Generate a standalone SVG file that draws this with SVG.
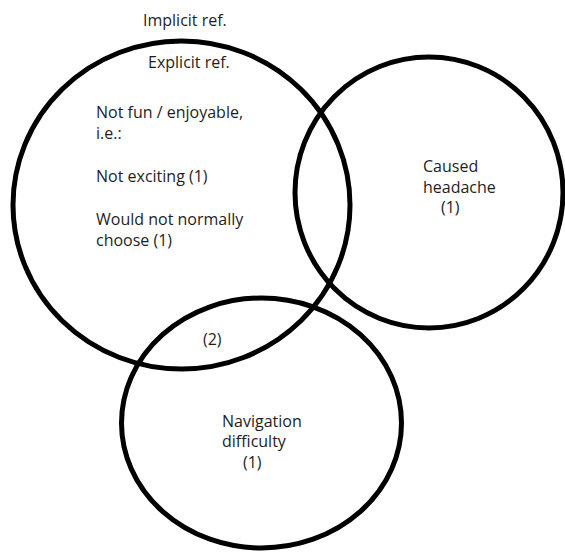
<svg xmlns="http://www.w3.org/2000/svg" width="565" height="553" viewBox="0 0 565 553">
  <style>
    .set { fill: none; stroke: #000; stroke-width: 5; }
    .lbl { font-family: "Open Sans", "Liberation Sans", sans-serif; font-size: 16px; fill: #1e1e1e; }
  </style>
  <rect width="565" height="553" fill="#fff"/>

  <!-- heading above the first set -->
  <g id="implicit-ref">
    <text class="lbl" x="143" y="26">Implicit ref.</text>
  </g>

  <!-- set: explicit references -->
  <g id="explicit-ref">
    <ellipse class="set" cx="181.5" cy="205" rx="168.5" ry="164"/>
    <text class="lbl" x="148" y="68">Explicit ref.</text>
    <text class="lbl" x="96" y="118">Not fun / enjoyable,</text>
    <text class="lbl" x="96" y="139">i.e.:</text>
    <text class="lbl" x="96" y="182">Not exciting (1)</text>
    <text class="lbl" x="96" y="225">Would not normally</text>
    <text class="lbl" x="96" y="246">choose (1)</text>
  </g>

  <!-- set: caused headache -->
  <g id="caused-headache">
    <ellipse class="set" cx="429" cy="192.5" rx="134" ry="135.5"/>
    <text class="lbl" x="423" y="172">Caused</text>
    <text class="lbl" x="423" y="193">headache</text>
    <text class="lbl" x="441" y="213">(1)</text>
  </g>

  <!-- set: navigation difficulty -->
  <g id="navigation-difficulty">
    <ellipse class="set" cx="261.5" cy="423" rx="140" ry="125"/>
    <text class="lbl" x="222" y="427">Navigation</text>
    <text class="lbl" x="222" y="447">difficulty</text>
    <text class="lbl" x="243" y="468">(1)</text>
  </g>

  <!-- overlap count -->
  <g id="overlap-count">
    <text class="lbl" x="203" y="345">(2)</text>
  </g>

  <g id="connectors"/>
</svg>
